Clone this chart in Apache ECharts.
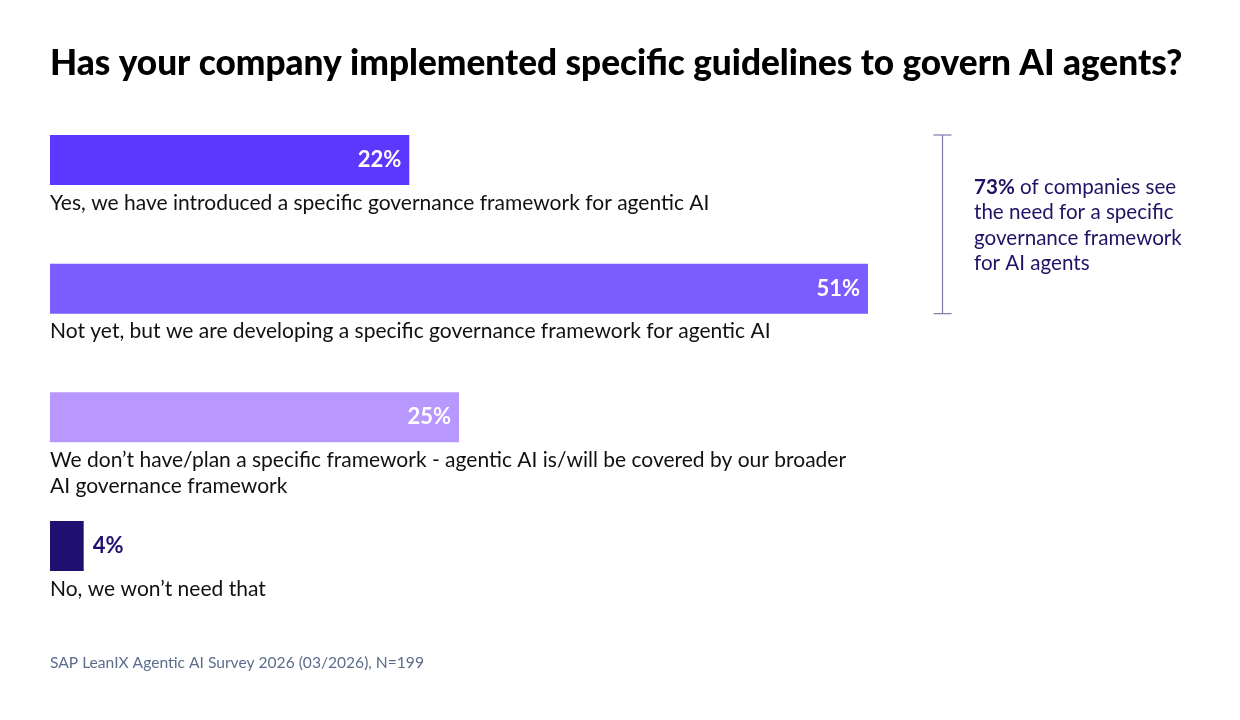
<!DOCTYPE html>
<html>
<head>
<meta charset="utf-8">
<script src="https://cdn.jsdelivr.net/npm/echarts@6/dist/echarts.min.js"></script>
<style>
  html, body { margin: 0; padding: 0; background: #ffffff; }
  #chart { width: 1240px; height: 720px; }
</style>
</head>
<body>
<div id="chart"></div>
<script>
// ---- data ----
const titleText = 'Has your company implemented specific guidelines to govern AI agents?';
const categories = [
  'Yes, we have introduced a specific governance framework for agentic AI',
  'Not yet, but we are developing a specific governance framework for agentic AI',
  'We don\u2019t have/plan a specific framework - agentic AI is/will be covered by our broader\nAI governance framework',
  'No, we won\u2019t need that'
];
// bar lengths as drawn in the picture (percent)
const barValues = [22.4, 51, 25.5, 2.1];
// printed value labels
const valueLabels = ['22%', '51%', '25%', '4%'];
const noteBold = '73%';
const noteText = ' of companies see\nthe need for a specific\ngovernance framework\nfor AI agents';
const sourceText = 'SAP LeanIX Agentic AI Survey 2026 (03/2026), N=199';

// ---- style ----
const barColors = ['#5c38ff', '#7a5cff', '#b897ff', '#1f0f6e'];
const insideLabel = [true, true, true, false];
const FONT = 'Lato, "Open Sans", sans-serif';

const chart = echarts.init(document.getElementById('chart'));

const seriesData = barValues.map((v, i) => ({
  value: v,
  itemStyle: { color: barColors[i] },
  label: insideLabel[i]
    ? { position: 'insideRight', distance: 8, color: '#ffffff' }
    : { position: 'right', distance: 9, color: '#1f0f6e' }
}));

const option = {
  backgroundColor: '#ffffff',
  animation: false,
  title: [
    {
      text: titleText,
      left: 50,
      top: 46,
      padding: 0,
      textStyle: { fontFamily: FONT, fontSize: 35.2, fontWeight: 900, color: '#000000' }
    },
    {
      text: sourceText,
      left: 50,
      top: 655,
      padding: 0,
      textStyle: { fontFamily: FONT, fontSize: 15.6, fontWeight: 'normal', color: '#5b6e8e' }
    }
  ],
  grid: { left: 50, right: 227.65, top: 95.65, bottom: 109.65, containLabel: false },
  xAxis: {
    type: 'value',
    min: 0,
    max: 60,
    show: false
  },
  yAxis: {
    type: 'category',
    inverse: true,
    data: categories,
    axisLine: { show: false },
    axisTick: { show: false },
    splitLine: { show: false },
    axisLabel: {
      inside: true,
      interval: 0,
      margin: 0,
      align: 'left',
      verticalAlign: 'top',
      padding: [30, 0, 0, 0],
      fontFamily: FONT,
      fontSize: 21,
      lineHeight: 26,
      color: '#111111'
    }
  },
  series: [
    {
      type: 'bar',
      data: seriesData,
      barWidth: 50,
      z: 3,
      label: {
        show: true,
        fontFamily: FONT,
        fontSize: 22,
        fontWeight: 'bold',
        formatter: p => valueLabels[p.dataIndex]
      }
    }
  ]
};

chart.setOption(option);

// bracket annotation spanning the first two bars
const c0 = chart.convertToPixel({ yAxisIndex: 0 }, 0);
const c1 = chart.convertToPixel({ yAxisIndex: 0 }, 1);
const yTop = c0 - 25;
const yBot = c1 + 25;
const bx = 942.5;
const bracketColor = '#7d7aa8';

chart.setOption({
  graphic: [
    { type: 'line', shape: { x1: bx, y1: yTop, x2: bx, y2: yBot }, style: { stroke: bracketColor, lineWidth: 1.2 } },
    { type: 'line', shape: { x1: bx - 9, y1: yTop, x2: bx + 9, y2: yTop }, style: { stroke: bracketColor, lineWidth: 1.2 } },
    { type: 'line', shape: { x1: bx - 9, y1: yBot, x2: bx + 9, y2: yBot }, style: { stroke: bracketColor, lineWidth: 1.2 } },
    {
      type: 'text',
      x: 974,
      y: (yTop + yBot) / 2 + 1,
      style: {
        text: '{b|' + noteBold + '}' + noteText,
        fontFamily: FONT,
        fontSize: 20.6,
        lineHeight: 25.5,
        fill: '#1e1466',
        verticalAlign: 'middle',
        align: 'left',
        rich: {
          b: { fontFamily: FONT, fontSize: 20.6, fontWeight: 'bold', fill: '#1e1466', lineHeight: 25.5 }
        }
      }
    }
  ]
});
</script>
</body>
</html>
